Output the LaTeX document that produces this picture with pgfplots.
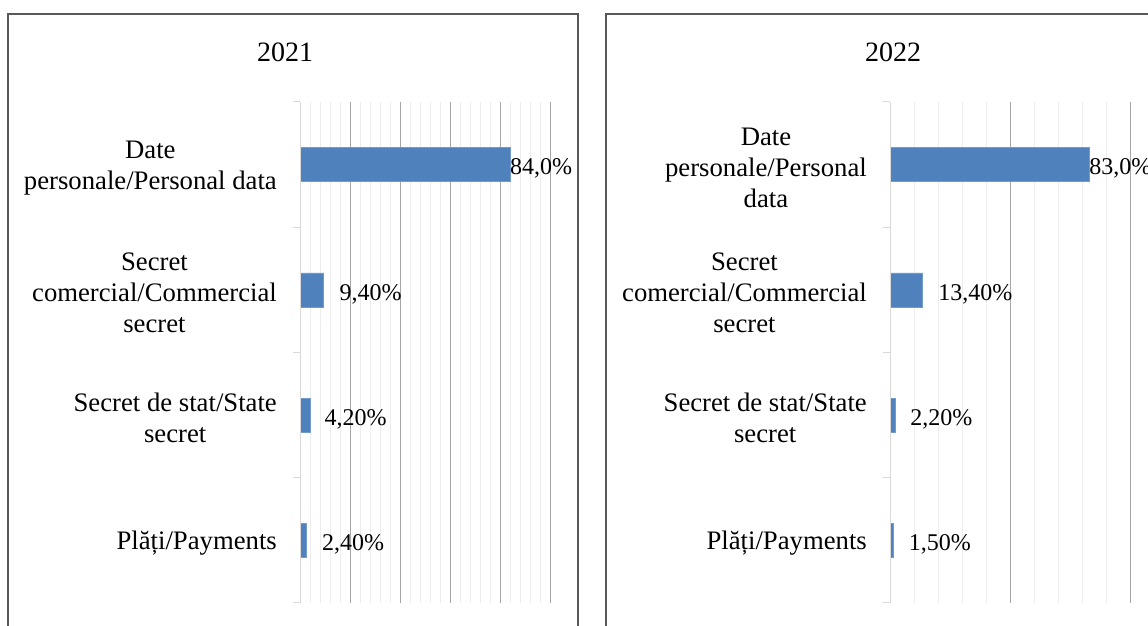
\documentclass[border=0pt]{standalone}
\usepackage{fontspec}
\setmainfont{Liberation Serif}
\usepackage{pgfplots}
\pgfplotsset{compat=1.18}
\definecolor{barblue}{HTML}{4F81BD}
\definecolor{framec}{HTML}{595959}
\definecolor{majgrid}{HTML}{A6A6A6}
\definecolor{mingrid}{HTML}{EDEDED}
\definecolor{axline}{HTML}{D9D9D9}
\newcommand\catfont{\fontsize{26.7}{31}\selectfont}
\newcommand\valfont{\fontsize{24}{28}\selectfont}
\newcommand\titfont{\fontsize{28}{32}\selectfont}
\tikzset{
  cat/.style={anchor=east, align=center, font=\catfont, inner sep=0pt, xshift=-23pt, yshift=-3pt},
  val/.style={anchor=west, font=\valfont, inner sep=0pt, yshift=-4pt},
}
\pgfplotsset{panel/.style={
  xbar, scale only axis, anchor=south west, height=501pt,
  xmin=0, xmax=100, ymin=-0.5, ymax=3.5,
  axis line style={draw=none},
  xmajorgrids, xminorgrids,
  major grid style={draw=majgrid, line width=1pt},
  minor grid style={draw=mingrid, line width=1pt},
  x tick style={draw=none}, xticklabels={},
  ytick={-0.5,0.5,1.5,2.5,3.5}, yticklabels={}, ytick pos=left, tick align=outside,
  y tick style={draw=axline, line width=1pt}, major tick length=7pt,
  bar width=34pt, clip=false,
}}
\begin{document}
\begin{tikzpicture}[x=1pt,y=1pt]
\path[use as bounding box] (0,0) rectangle (1148,626);
\clip (0,0) rectangle (1148,626);
\draw[framec, line width=2pt] (7.5,-20) -- (7.5,611.5) -- (577.5,611.5) -- (577.5,-20);
\draw[framec, line width=2pt] (605.5,-20) -- (605.5,611.5) -- (1170,611.5);
\node[font=\titfont, anchor=base, inner sep=0pt] at (285,564) {2021};
\node[font=\titfont, anchor=base, inner sep=0pt] at (893,564) {2022};

\begin{axis}[panel, at={(300pt,23pt)}, width=250pt,
  xtick={20,40,60,80,100},
  minor xtick={4,8,12,16,24,28,32,36,44,48,52,56,64,68,72,76,84,88,92,96}]
\addplot[fill=barblue, draw=barblue!80!white] coordinates {(84,3) (9.4,2) (4.2,1) (2.4,0)};
\draw[axline, line width=1pt] (axis cs:0,-0.5) -- (axis cs:0,3.5);
\node[cat] at (axis cs:0,3) {Date\\personale/Personal data};
\node[cat] at (axis cs:0,2) {Secret\\comercial/Commercial\\secret};
\node[cat] at (axis cs:0,1) {Secret de stat/State\\secret};
\node[cat] at (axis cs:0,0) {Plăți/Payments};
\node[val] at (axis cs:84,3) {84,0\%};
\node[val, xshift=16pt] at (axis cs:9.4,2) {9,40\%};
\node[val, xshift=14pt] at (axis cs:4.2,1) {4,20\%};
\node[val, xshift=16pt] at (axis cs:2.4,0) {2,40\%};
\end{axis}

\begin{axis}[panel, at={(890pt,23pt)}, width=240pt,
  xtick={50,100},
  minor xtick={10,20,30,40,60,70,80,90}]
\addplot[fill=barblue, draw=barblue!80!white] coordinates {(83,3) (13.4,2) (2.2,1) (1.5,0)};
\draw[axline, line width=1pt] (axis cs:0,-0.5) -- (axis cs:0,3.5);
\node[cat] at (axis cs:0,3) {Date\\personale/Personal\\data};
\node[cat] at (axis cs:0,2) {Secret\\comercial/Commercial\\secret};
\node[cat] at (axis cs:0,1) {Secret de stat/State\\secret};
\node[cat] at (axis cs:0,0) {Plăți/Payments};
\node[val] at (axis cs:83,3) {83,0\%};
\node[val, xshift=16pt] at (axis cs:13.4,2) {13,40\%};
\node[val, xshift=15pt] at (axis cs:2.2,1) {2,20\%};
\node[val, xshift=15pt] at (axis cs:1.5,0) {1,50\%};
\end{axis}
\end{tikzpicture}
\end{document}
